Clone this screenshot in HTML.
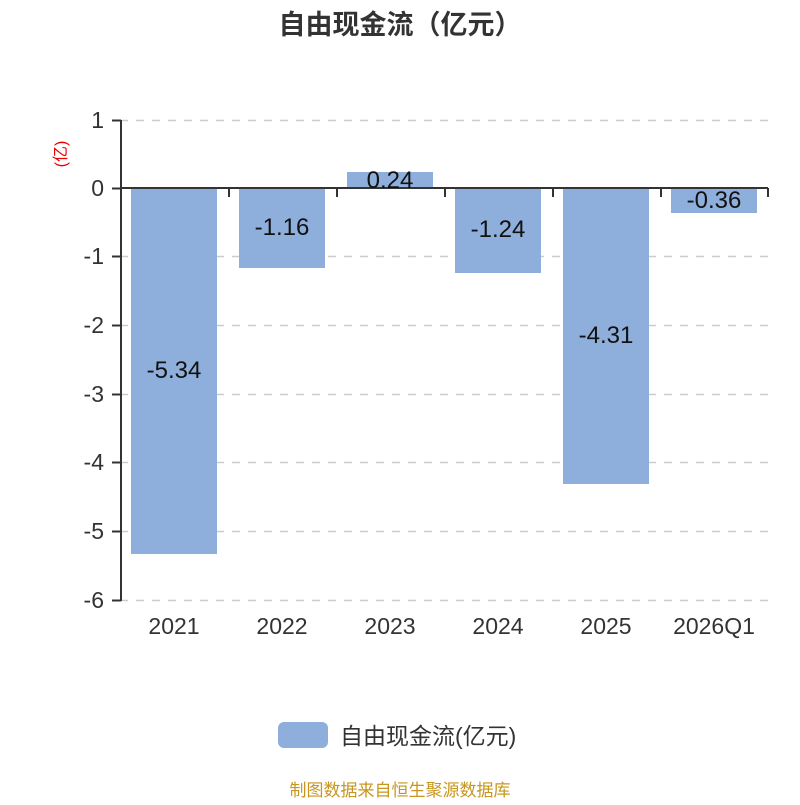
<!DOCTYPE html>
<html><head><meta charset="utf-8"><style>
html,body{margin:0;padding:0;background:#fff;}
svg text{font-family:"Liberation Sans","Noto Sans CJK SC",sans-serif;}
</style></head><body>
<svg width="800" height="800" xmlns="http://www.w3.org/2000/svg">
<rect width="800" height="800" fill="#fff"/>
<text x="400" y="34" text-anchor="middle" font-size="27" font-weight="bold" fill="#333">自由现金流（亿元）</text>
<text transform="translate(66,154) rotate(-90)" text-anchor="middle" font-size="16" fill="#e00">(亿)</text>
<g stroke="#ccc" stroke-width="1.5" stroke-dasharray="8,8">
<line x1="120" y1="120.5" x2="768" y2="120.5"/>
<line x1="120" y1="256.5" x2="768" y2="256.5"/>
<line x1="120" y1="325.5" x2="768" y2="325.5"/>
<line x1="120" y1="394.5" x2="768" y2="394.5"/>
<line x1="120" y1="462.5" x2="768" y2="462.5"/>
<line x1="120" y1="531.5" x2="768" y2="531.5"/>
<line x1="120" y1="600.5" x2="768" y2="600.5"/>
</g>
<g fill="#8eaedb">
<rect x="131" y="188" width="86" height="366"/>
<rect x="239" y="188" width="86" height="80"/>
<rect x="347" y="172" width="86" height="16"/>
<rect x="455" y="188" width="86" height="85"/>
<rect x="563" y="188" width="86" height="296"/>
<rect x="671" y="188" width="86" height="25"/>
</g>
<g stroke="#333" stroke-width="2">
<line x1="121" y1="120" x2="121" y2="601"/>
<line x1="120" y1="188" x2="768" y2="188"/>
<line x1="112" y1="120.5" x2="121" y2="120.5"/>
<line x1="112" y1="188.5" x2="121" y2="188.5"/>
<line x1="112" y1="256.5" x2="121" y2="256.5"/>
<line x1="112" y1="325.5" x2="121" y2="325.5"/>
<line x1="112" y1="394.5" x2="121" y2="394.5"/>
<line x1="112" y1="462.5" x2="121" y2="462.5"/>
<line x1="112" y1="531.5" x2="121" y2="531.5"/>
<line x1="112" y1="600.5" x2="121" y2="600.5"/>
<line x1="229" y1="188" x2="229" y2="197"/>
<line x1="337" y1="188" x2="337" y2="197"/>
<line x1="445" y1="188" x2="445" y2="197"/>
<line x1="553" y1="188" x2="553" y2="197"/>
<line x1="661" y1="188" x2="661" y2="197"/>
<line x1="768" y1="188" x2="768" y2="197"/>
</g>
<g font-size="23" fill="#333" text-anchor="end">
<text x="104" y="128">1</text>
<text x="104" y="196">0</text>
<text x="104" y="264">-1</text>
<text x="104" y="333">-2</text>
<text x="104" y="402">-3</text>
<text x="104" y="470">-4</text>
<text x="104" y="539">-5</text>
<text x="104" y="608">-6</text>
</g>
<g font-size="23" fill="#333" text-anchor="middle">
<text x="174" y="634">2021</text>
<text x="282" y="634">2022</text>
<text x="390" y="634">2023</text>
<text x="498" y="634">2024</text>
<text x="606" y="634">2025</text>
<text x="714" y="634">2026Q1</text>
</g>
<g font-size="24" fill="#111" text-anchor="middle">
<text x="174" y="378">-5.34</text>
<text x="282" y="235">-1.16</text>
<text x="390" y="188">0.24</text>
<text x="498" y="237">-1.24</text>
<text x="606" y="343">-4.31</text>
<text x="714" y="208">-0.36</text>
</g>
<rect x="278" y="722" width="50" height="26" rx="6" fill="#8eaedb"/>
<text x="340" y="744" font-size="23" fill="#333">自由现金流(亿元)</text>
<text x="400" y="796" text-anchor="middle" font-size="17" fill="#c8961e">制图数据来自恒生聚源数据库</text>
</svg>
</body></html>
